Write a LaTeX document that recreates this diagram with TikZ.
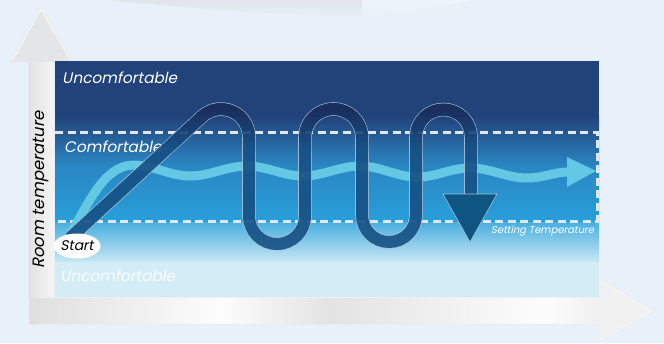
\documentclass[tikz,border=0pt]{standalone}
\usepackage{fontspec}
\newfontfamily\lblfont[FakeSlant=0.2]{Poppins}
\usetikzlibrary{shapes.geometric}
\definecolor{bgc}{HTML}{E8F0F9}
\definecolor{navy}{HTML}{22427A}
\definecolor{midblue}{HTML}{2A86C2}
\definecolor{satblue}{HTML}{27A0DA}
\definecolor{paleblue}{HTML}{D3ECF5}
\definecolor{bandc}{HTML}{62C8E4}
\definecolor{snaketop}{HTML}{1B2D5C}
\definecolor{snakemid}{HTML}{165084}
\definecolor{snakeedge}{HTML}{A8C0D8}
\definecolor{snakehead}{HTML}{0F5582}
\definecolor{dashc}{HTML}{E2E6EA}
\definecolor{axg}{HTML}{E3E5E7}
\tikzset{
  lbl/.style={inner sep=0pt, font=\lblfont},
  snakep/.style={insert path={(70,238) -- (203,115.6) arc[start angle=230, end angle=360, radius=28]
    -- (249,216) arc[start angle=180, end angle=0, radius=28]
    -- (305,137.5) arc[start angle=180, end angle=360, radius=28.5]
    -- (362,215) arc[start angle=180, end angle=0, radius=27]
    -- (416,137) arc[start angle=180, end angle=360, radius=27.5]
    -- (471,197)}},
  snk/.style={line width=12pt, line join=round}
}
\begin{document}
\begin{tikzpicture}[x=1pt,y=-1pt]
\useasboundingbox (0,0) rectangle (664,343);
\fill[bgc] (0,0) rectangle (664,343);
% top swoosh
\shade[top color=gray!30, bottom color=bgc, opacity=0.45] (110,0) -- (362,0) -- (362,17) .. controls (300,16) and (200,10) .. (110,0) -- cycle;
\shade[top color=white, bottom color=bgc, opacity=0.35] (362,0) -- (470,0) .. controls (440,8) and (400,14) .. (362,17) -- cycle;
% axes
\fill[axg] (29,324) -- (29,62) -- (10,62) -- (41,7) -- (73,62) -- (54,62) -- (54,298) -- (599,298) -- (599,278) -- (655,311) -- (599,342) -- (599,324) -- cycle;
\draw[white, line width=0.8pt] (12,61) -- (41,9) -- (71,61);
\shade[left color=gray!22, right color=gray!8] (29,62) rectangle (54,324);
\draw[gray!30, line width=0.8pt] (29.5,62) -- (29.5,323.5) -- (599,323.5);
\shade[left color=gray!25, right color=gray!2] (29.5,298) rectangle (220,323);
\shade[left color=gray!2, right color=gray!22] (220,298) rectangle (330,323);
\shade[left color=gray!22, right color=gray!2] (330,298) rectangle (545,323);
\shade[left color=gray!2, right color=gray!12] (545,298) rectangle (599.5,323);
\fill[gray!12] (599,278) -- (655,311) -- (599,342) -- cycle;
\draw[gray!6, line width=0.8pt] (600,281) -- (651,311) -- (600,340);
% panel
\fill[navy] (55,61) rectangle (599,116);
\shade[top color=navy, bottom color=midblue] (55,115.5) rectangle (599,165.5);
\shade[top color=midblue, bottom color=satblue] (55,165) rectangle (599,222.5);
\shade[top color=satblue!85!white, bottom color=paleblue!95!satblue] (55,222) rectangle (599,262.5);
\fill[paleblue] (55,262) rectangle (599,297);
% dashed lines
\draw[dashc, line width=3pt, dash pattern=on 8pt off 4.5pt] (55,132) -- (597,132) -- (597,221) -- (55,221);
% labels
\node[lbl, anchor=west, text=white, font=\lblfont\fontsize{15.3}{15.3}\selectfont] (uc1) at (62,78) {Uncomfortable};
\node[lbl, anchor=west, text=white, font=\lblfont\fontsize{15.3}{15.3}\selectfont] (cf) at (64,147) {Comfortable};
\node[lbl, anchor=west, text=white!92!paleblue, font=\lblfont\fontsize{15.3}{15.3}\selectfont] (uc2) at (60,276) {Uncomfortable};
\node[lbl, anchor=west, text=white, font=\lblfont\fontsize{10}{10}\selectfont] (st) at (491,231) {Setting Temperature};
\node[lbl, rotate=90, text=black, font=\lblfont\fontsize{16.5}{16.5}\selectfont] (rt) at (41,190) {Room temperature};
% light band
\draw[bandc, line width=9pt] (68,238) .. controls (88,205) and (103,166) .. (133,165)
  .. controls (153,165) and (170,176) .. (190,176)
  .. controls (210,176) and (227,166) .. (247,166)
  .. controls (267,166) and (283,176) .. (303,176)
  .. controls (323,176) and (340,166) .. (360,166)
  .. controls (380,166) and (397,177) .. (417,177)
  .. controls (437,177) and (450,168) .. (470,168)
  .. controls (490,168) and (507,178) .. (527,178)
  .. controls (543,178) and (555,172) .. (568,172);
\fill[bandc] (567,157) -- (596,171) -- (567,187) -- cycle;
% snake
\begin{scope}[transparency group, opacity=0.9]
  \draw[snk, line width=13.6pt, snakeedge] [snakep];
  \draw[snk, snakemid] [snakep];
  \begin{scope}
    \clip (0,0) rectangle (664,112.3);
    \draw[snk, snaketop] [snakep];
  \end{scope}
  \foreach \k in {0,...,7}{
    \pgfmathsetmacro\ya{112+5*\k}
    \pgfmathsetmacro\yb{\ya+5.4}
    \pgfmathtruncatemacro\pc{100-12.5*(\k+1)}
    \begin{scope}
      \clip (0,\ya) rectangle (664,\yb);
      \draw[snk, snaketop!\pc!snakemid] [snakep];
    \end{scope}
  }
\end{scope}
\fill[snakehead, draw=snakeedge, line width=0.6pt] (443,194) -- (497,194) -- (470,242) -- cycle;
% start
\node[ellipse, fill=white, minimum width=47pt, minimum height=25pt, inner sep=0pt, font=\lblfont\fontsize{14}{14}\selectfont, text=black] (start) at (77,246) {Start};
\end{tikzpicture}
\end{document}
